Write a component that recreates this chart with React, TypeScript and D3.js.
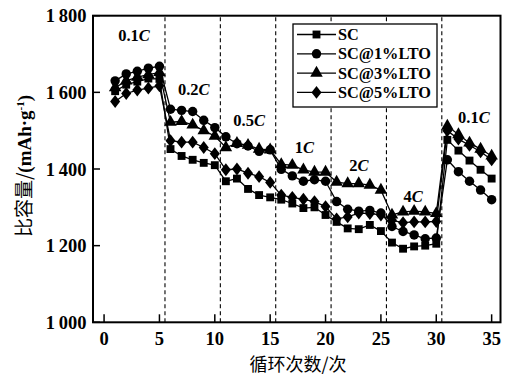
import React from "react";
import * as d3 from "d3";

const cycles = d3.range(1, 36);
const seriesNames = ["SC", "SC@1%LTO", "SC@3%LTO", "SC@5%LTO"];
const scValues = [1603, 1620, 1628, 1636, 1635, 1452, 1434, 1424, 1416, 1410, 1368, 1375, 1348, 1332, 1326, 1320, 1310, 1298, 1300, 1280, 1262, 1245, 1243, 1254, 1238, 1208, 1192, 1198, 1200, 1205, 1476, 1448, 1422, 1398, 1375];
const lto1Values = [1630, 1648, 1655, 1663, 1668, 1556, 1553, 1550, 1527, 1508, 1484, 1466, 1460, 1446, 1450, 1399, 1382, 1368, 1372, 1368, 1315, 1295, 1290, 1292, 1285, 1250, 1237, 1228, 1218, 1220, 1424, 1393, 1368, 1345, 1320];
const lto3Values = [1612, 1630, 1640, 1646, 1652, 1522, 1524, 1515, 1500, 1486, 1456, 1467, 1462, 1452, 1450, 1412, 1410, 1398, 1392, 1392, 1366, 1362, 1362, 1358, 1345, 1280, 1288, 1290, 1288, 1284, 1512, 1490, 1468, 1452, 1434];
const lto5Values = [1576, 1597, 1606, 1611, 1617, 1474, 1470, 1470, 1456, 1440, 1398, 1400, 1389, 1380, 1365, 1332, 1326, 1321, 1315, 1302, 1270, 1275, 1285, 1284, 1280, 1266, 1260, 1262, 1262, 1263, 1500, 1478, 1462, 1445, 1424];
const xTicks = [0, 5, 10, 15, 20, 25, 30, 35];
const yTicks = [1000, 1200, 1400, 1600, 1800];
const yTickLabels = ["1\u2009000", "1\u2009200", "1\u2009400", "1\u2009600", "1\u2009800"];
const dividers = [5.5, 10.5, 15.5, 20.5, 25.5, 30.5];
const rateLabels = [
  { rate: "0.1", cycle: 2.7, value: 1733 },
  { rate: "0.2", cycle: 8.1, value: 1593 },
  { rate: "0.5", cycle: 13.1, value: 1513 },
  { rate: "1", cycle: 18.1, value: 1441 },
  { rate: "2", cycle: 23.0, value: 1396 },
  { rate: "4", cycle: 27.9, value: 1314 },
  { rate: "0.1", cycle: 33.4, value: 1519 },
];

const allSeries = [scValues, lto1Values, lto3Values, lto5Values];
const markerTypes = [d3.symbolSquare, d3.symbolCircle, d3.symbolTriangle, d3.symbolDiamond];
const markerSizes = [62, 70, 68, 66];

const W = 507;
const H = 376;
const x = d3.scaleLinear().domain([-1, 35.8]).range([93, 500.5]);
const y = d3.scaleLinear().domain([1000, 1800]).range([322.3, 15.7]);
const font = "'Liberation Serif', 'Times New Roman', serif";
const cjk = "'Noto Sans CJK SC', sans-serif";

function Marker({ type, size, cx, cy }: { type: any; size: number; cx: number; cy: number }) {
  const p = d3.symbol().type(type).size(size)() as string;
  const isD = type === d3.symbolDiamond;
  return <path d={p} transform={`translate(${cx},${cy}) scale(${isD ? 1.15 : 1},${isD ? 0.85 : 1})`} fill="#000" />;
}

export default function App() {
  const line = d3
    .line<number>()
    .x((_, i) => x(cycles[i]))
    .y((d) => y(d));
  const x0 = x.range()[0];
  const x1 = x.range()[1];
  const y0 = y.range()[0];
  const y1 = y.range()[1];
  const legX = 293;
  const legY = 24;
  return (
    <svg width={W} height={H} style={{ position: "absolute", left: 0, top: 0, background: "#fff" }}>
      <rect x={0} y={0} width={W} height={H} fill="#fff" />
      {dividers.map((d) => (
        <line key={d} x1={x(d)} x2={x(d)} y1={y0} y2={y1} stroke="#000" strokeWidth={1.1} strokeDasharray="4,3" />
      ))}
      {allSeries.map((s, si) => (
        <g key={si}>
          <path d={line(s) as string} fill="none" stroke="#000" strokeWidth={1.3} />
          {s.map((v, i) => (
            <Marker key={i} type={markerTypes[si]} size={markerSizes[si]} cx={x(cycles[i])} cy={y(v)} />
          ))}
        </g>
      ))}
      {rateLabels.map((r, i) => (
        <text key={i} x={x(r.cycle)} y={y(r.value)} textAnchor="middle" fontFamily={font} fontWeight="bold" fontSize={16.5} fill="#000">
          {r.rate}
          <tspan fontStyle="italic">C</tspan>
        </text>
      ))}
      {/* legend */}
      <rect x={legX} y={legY} width={144} height={83} fill="#fff" stroke="#000" strokeWidth={1.3} />
      {seriesNames.map((n, i) => {
        const ly = legY + 10.5 + i * 19.3;
        return (
          <g key={n}>
            <line x1={legX + 4} x2={legX + 43} y1={ly} y2={ly} stroke="#000" strokeWidth={1.3} />
            <Marker type={markerTypes[i]} size={markerSizes[i]} cx={legX + 23.5} cy={ly} />
            <text x={legX + 45} y={ly + 5.5} fontFamily={font} fontWeight="bold" fontSize={16.3} fill="#000">
              {n}
            </text>
          </g>
        );
      })}
      {/* frame */}
      <rect x={x0} y={y1} width={x1 - x0} height={y0 - y1} fill="none" stroke="#000" strokeWidth={2} />
      {xTicks.map((t) => (
        <g key={t}>
          <line x1={x(t)} x2={x(t)} y1={y0} y2={y0 - 8} stroke="#000" strokeWidth={1.5} />
          <text x={x(t)} y={344.5} textAnchor="middle" fontFamily={font} fontWeight="bold" fontSize={18.5} fill="#000">
            {t}
          </text>
        </g>
      ))}
      {yTicks.map((t, i) => (
        <g key={t}>
          <line x1={x0} x2={x0 + 7} y1={y(t)} y2={y(t)} stroke="#000" strokeWidth={1.5} />
          <text x={86.5} y={y(t) + 6.5} textAnchor="end" fontFamily={font} fontWeight="bold" fontSize={18.5} fill="#000">
            {yTickLabels[i]}
          </text>
        </g>
      ))}
      <text x={298} y={370.5} textAnchor="middle" fontFamily={cjk} fontSize={18} fill="#000">
        循环次数/次
      </text>
      <text transform={`translate(31,166) rotate(-90)`} textAnchor="middle" fontSize={19} fill="#000">
        <tspan fontFamily={cjk}>比容量/</tspan>
        <tspan fontFamily={font} fontWeight="bold">(mAh·g</tspan>
        <tspan fontFamily={font} fontWeight="bold" dy={-7} fontSize={11}>-1</tspan>
        <tspan fontFamily={font} fontWeight="bold" dy={7}>)</tspan>
      </text>
    </svg>
  );
}
